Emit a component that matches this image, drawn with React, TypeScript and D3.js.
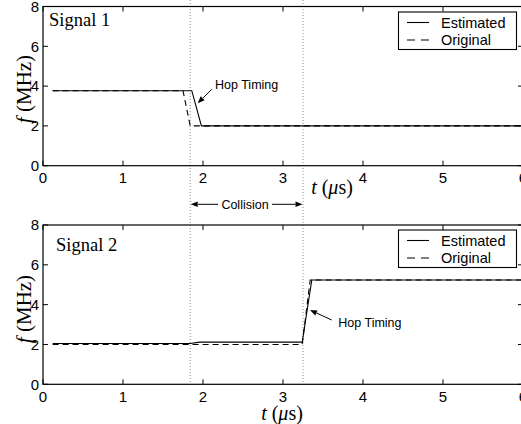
import React from "react";
import * as d3 from "d3";

// ---- data ----
const xTicks = [0, 1, 2, 3, 4, 5, 6];
const yTicks = [0, 2, 4, 6, 8];

const sig1EstT = [0.12, 1.86, 1.98, 6];
const sig1EstF = [3.77, 3.77, 2.0, 2.0];
const sig1OrigT = [0.12, 1.75, 1.84, 6];
const sig1OrigF = [3.77, 3.77, 2.0, 2.0];

const sig2EstT = [0.12, 1.84, 1.96, 3.24, 3.36, 6];
const sig2EstF = [2.05, 2.05, 2.12, 2.12, 5.24, 5.24];
const sig2OrigT = [0.12, 3.24, 3.34, 6];
const sig2OrigF = [2.0, 2.0, 5.24, 5.24];

const collisionStart = 1.84;
const collisionEnd = 3.25;

const seriesNames = ["Estimated", "Original"];

const W = 521;
const H = 424;
const SANS = "'Liberation Sans', Arial, Helvetica, sans-serif";
const SERIF = "'Liberation Serif', 'Times New Roman', serif";

const x = d3.scaleLinear().domain([0, 6]).range([43, 523]);

type PanelProps = {
  y: d3.ScaleLinear<number, number>;
  estT: number[];
  estF: number[];
  origT: number[];
  origF: number[];
  title: string;
  titleX: number;
  titleY: number;
  legendTop: number;
  xLabelX: number;
  xLabelY: number;
  yLabelY: number;
};

function Panel(p: PanelProps) {
  const { y } = p;
  const [y0, y1] = y.range();
  const [x0, x1] = x.range();
  const line = d3
    .line<[number, number]>()
    .x((d) => x(d[0]))
    .y((d) => y(d[1]));
  const est = p.estT.map((t, i) => [t, p.estF[i]] as [number, number]);
  const orig = p.origT.map((t, i) => [t, p.origF[i]] as [number, number]);
  const tl = 5;
  const lx = 398.5;
  const lw = 118;
  const lh = 37.5;
  return (
    <g>
      <path d={line(orig) || ""} fill="none" stroke="#000" strokeWidth={1.1} strokeDasharray="6,4" />
      <path d={line(est) || ""} fill="none" stroke="#000" strokeWidth={1.1} />
      {/* frame */}
      <rect x={x0} y={y1} width={x1 - x0} height={y0 - y1} fill="none" stroke="#000" strokeWidth={1.2} />
      {xTicks.map((t) => (
        <g key={"xt" + t}>
          <line x1={x(t)} x2={x(t)} y1={y0} y2={y0 - tl} stroke="#000" />
          <line x1={x(t)} x2={x(t)} y1={y1} y2={y1 + tl} stroke="#000" />
          <text x={x(t)} y={y0 + 12} dy="0.35em" textAnchor="middle" fontFamily={SANS} fontSize={15}>
            {t}
          </text>
        </g>
      ))}
      {yTicks.map((t) => (
        <g key={"yt" + t}>
          <line x1={x0} x2={x0 + tl} y1={y(t)} y2={y(t)} stroke="#000" />
          <line x1={x1} x2={x1 - tl} y1={y(t)} y2={y(t)} stroke="#000" />
          <text x={39} y={y(t)} dy="0.35em" textAnchor="end" fontFamily={SANS} fontSize={15}>
            {t}
          </text>
        </g>
      ))}
      <text x={p.titleX} y={p.titleY} fontFamily={SERIF} fontSize={18.5}>
        {p.title}
      </text>
      {/* legend */}
      <rect x={lx} y={p.legendTop} width={lw} height={lh} fill="#fff" stroke="#000" strokeWidth={1.1} />
      {seriesNames.map((n, i) => {
        const cy = p.legendTop + 10.5 + i * 17.5;
        return (
          <g key={n}>
            <line
              x1={lx + 8.5}
              x2={lx + 30.5}
              y1={cy}
              y2={cy}
              stroke="#000"
              strokeWidth={1.1}
              strokeDasharray={i === 1 ? "8,6" : undefined}
            />
            <text x={lx + 42.5} y={cy} dy="0.35em" fontFamily={SANS} fontSize={14.5}>
              {n}
            </text>
          </g>
        );
      })}
      {/* axis labels */}
      <text x={p.xLabelX} y={p.xLabelY} dy="0.35em" textAnchor="middle" fontFamily={SERIF} fontSize={20}>
        <tspan fontStyle="italic">t</tspan> (<tspan fontStyle="italic">μ</tspan>s)
      </text>
      <text
        transform={`translate(24,${p.yLabelY}) rotate(-90)`}
        dy="0.35em"
        textAnchor="middle"
        fontFamily={SERIF}
        fontSize={21}
      >
        <tspan fontStyle="italic">f</tspan> (MHz)
      </text>
    </g>
  );
}

function Arrow({ x1, y1, x2, y2 }: { x1: number; y1: number; x2: number; y2: number }) {
  const ang = Math.atan2(y2 - y1, x2 - x1);
  const L = 7;
  const Wd = 2.8;
  const bx = x2 - L * Math.cos(ang);
  const by = y2 - L * Math.sin(ang);
  const px = -Math.sin(ang) * Wd;
  const py = Math.cos(ang) * Wd;
  return (
    <g>
      <line x1={x1} y1={y1} x2={bx} y2={by} stroke="#000" strokeWidth={1} />
      <path d={`M${x2},${y2}L${bx + px},${by + py}L${bx - px},${by - py}Z`} fill="#000" />
    </g>
  );
}

export default function App() {
  const yTop = d3.scaleLinear().domain([0, 8]).range([165.7, 6.5]);
  const yBot = d3.scaleLinear().domain([0, 8]).range([384.3, 225]);
  const cy = 204.3;
  return (
    <svg width={W} height={H} style={{ position: "absolute", left: 0, top: 0 }}>
      <rect width={W} height={H} fill="#fff" />
      {[collisionStart, collisionEnd].map((t) => (
        <line
          key={"c" + t}
          x1={x(t)}
          x2={x(t)}
          y1={0}
          y2={382}
          stroke="#888"
          strokeWidth={1}
          strokeDasharray="1,2"
        />
      ))}
      <Panel
        y={yTop}
        estT={sig1EstT}
        estF={sig1EstF}
        origT={sig1OrigT}
        origF={sig1OrigF}
        title="Signal 1"
        titleX={49}
        titleY={26}
        legendTop={12}
        xLabelX={332}
        xLabelY={187}
        yLabelY={89}
      />
      <Panel
        y={yBot}
        estT={sig2EstT}
        estF={sig2EstF}
        origT={sig2OrigT}
        origF={sig2OrigF}
        title="Signal 2"
        titleX={56}
        titleY={251}
        legendTop={230}
        xLabelX={282}
        xLabelY={413}
        yLabelY={309}
      />
      {/* Hop timing annotations */}
      <Arrow x1={211.7} y1={89.3} x2={197.7} y2={103.3} />
      <text x={215} y={85} dy="0.35em" fontFamily={SANS} fontSize={12.5}>
        Hop Timing
      </text>
      <Arrow x1={331.7} y1={320} x2={310} y2={310} />
      <text x={338.3} y={322.3} dy="0.35em" fontFamily={SANS} fontSize={12.5}>
        Hop Timing
      </text>
      {/* Collision */}
      <Arrow x1={218} y1={cy} x2={x(collisionStart) + 0.5} y2={cy} />
      <Arrow x1={272} y1={cy} x2={x(collisionEnd) - 0.5} y2={cy} />
      <text x={245} y={cy} dy="0.35em" textAnchor="middle" fontFamily={SANS} fontSize={12.5}>
        Collision
      </text>
    </svg>
  );
}
